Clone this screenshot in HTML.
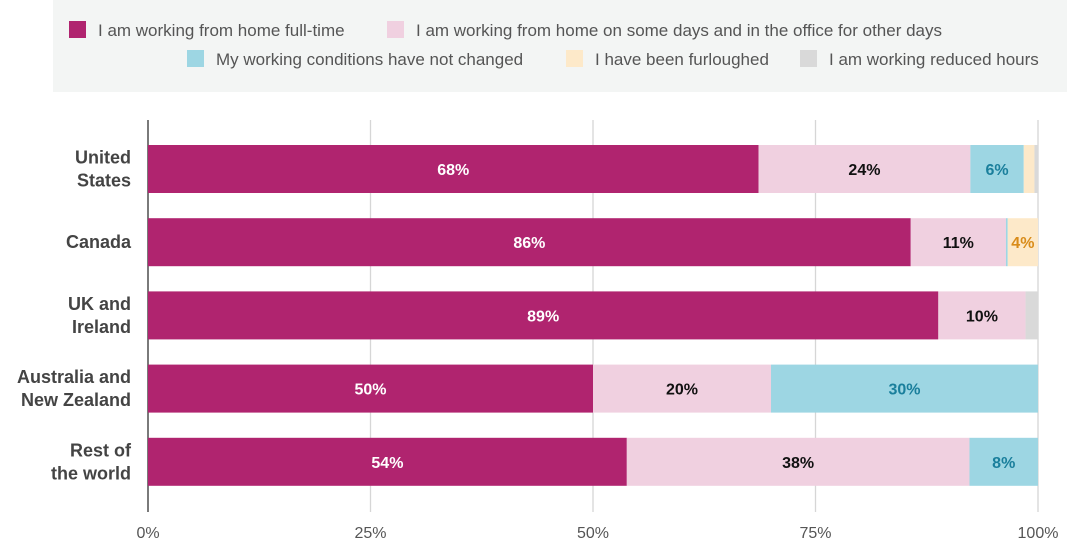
<!DOCTYPE html>
<html><head><meta charset="utf-8">
<style>
body{margin:0;background:#fff;font-family:"Liberation Sans",sans-serif;}
svg text{font-family:"Liberation Sans",sans-serif;}
</style></head>
<body>
<svg id="chart" width="1067" height="548" xmlns="http://www.w3.org/2000/svg">
<rect x="53" y="0" width="1014" height="92" fill="#f3f5f4"/>
<g font-size="17" fill="#555">
 <g><rect x="69" y="21" width="17" height="17" fill="#b0246f"/><text x="98" y="36">I am working from home full-time</text></g>
 <g><rect x="387" y="21" width="17" height="17" fill="#f0d0e0"/><text x="416" y="36">I am working from home on some days and in the office for other days</text></g>
 <g><rect x="187" y="50" width="17" height="17" fill="#9dd6e3"/><text x="216" y="65">My working conditions have not changed</text></g>
 <g><rect x="566" y="50" width="17" height="17" fill="#fde9c9"/><text x="595" y="65">I have been furloughed</text></g>
 <g><rect x="800" y="50" width="17" height="17" fill="#d9d9d9"/><text x="829" y="65">I am working reduced hours</text></g>
</g>
<g id="grid"></g><g id="bars"></g><g id="labels"></g>
</svg>
<script>
const categories=[["United","States"],["Canada"],["UK and","Ireland"],["Australia and","New Zealand"],["Rest of","the world"]];
const fullHome=[68.6,85.7,88.8,50.0,53.8];
const hybrid=[23.8,10.7,9.8,20.0,38.5];
const unchanged=[6.0,0.2,0,30.0,7.7];
const furloughed=[1.2,3.4,0,0,0];
const reduced=[0.4,0,1.4,0,0];
const shownLabels=[["68%","24%","6%","",""],["86%","11%","","4%",""],["89%","10%","","",""],["50%","20%","30%","",""],["54%","38%","8%","",""]];
const ticks=[0,25,50,75,100];
const series=[fullHome,hybrid,unchanged,furloughed,reduced];
const names=["full-time-home","hybrid","unchanged","furloughed","reduced-hours"];
const colors=["#b0246f","#f0d0e0","#9dd6e3","#fde9c9","#d9d9d9"];
const textColors=["#fff","#111","#1a7f9c","#d98c1a","#555"];
const NS="http://www.w3.org/2000/svg";
const x0=148,x1=1038,yTop=120,yBot=512;
const xs=v=>x0+v/100*(x1-x0);
const rowY=i=>145+i*73.2;
const barH=48;
function mk(t,a,p){const e=document.createElementNS(NS,t);for(const k in a)e.setAttribute(k,a[k]);p.appendChild(e);return e;}
const grid=document.getElementById('grid'),bars=document.getElementById('bars'),labels=document.getElementById('labels');
ticks.forEach(t=>{
 const l=mk('line',{x1:xs(t),x2:xs(t),y1:yTop,y2:yBot,stroke:t===0?'#333':'#d6d6d6','stroke-width':t===0?1.3:1.3},grid);
 
 
 const tx=mk('text',{x:xs(t),y:538,'text-anchor':'middle','font-size':16,fill:'#555'},grid);
 tx.textContent=t+'%';
 
 
});
categories.forEach((c,i)=>{
 const y=rowY(i);
 const g=mk('text',{x:131,'text-anchor':'end','font-size':18,'font-weight':'bold',fill:'#444'},labels);
 
 
 c.forEach((line,j)=>{const ts=mk('tspan',{x:131,y:y+barH/2+6+(j-(c.length-1)/2)*23},g);ts.textContent=line;});
 let acc=0;
 series.forEach((s,k)=>{
  const v=s[i];if(v<=0)return;
  const r=mk('rect',{x:xs(acc),y:y,width:xs(acc+v)-xs(acc),height:barH,fill:colors[k]},bars);
  
  
  const lab=shownLabels[i][k];
  if(lab){
   const t=mk('text',{x:(xs(acc)+xs(acc+v))/2,y:y+barH/2+6,'text-anchor':'middle','font-size':16,'font-weight':'bold',fill:textColors[k]},labels);
   t.textContent=lab;
   
   
  }
  acc+=v;
 });
});
</script>
</body></html>
